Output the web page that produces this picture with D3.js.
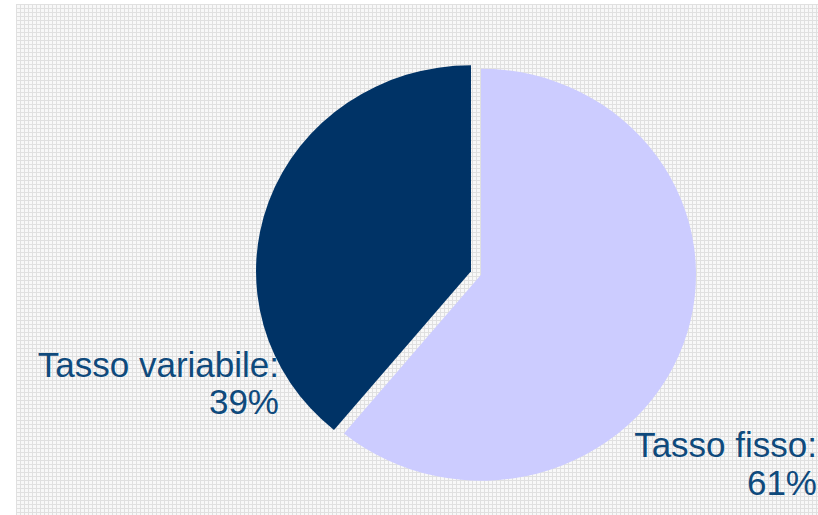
<!DOCTYPE html>
<html>
<head>
<meta charset="utf-8">
<script src="https://cdn.jsdelivr.net/npm/d3@7"></script>
<style>
  html, body { margin: 0; padding: 0; background: #fff; }
  svg { display: block; }
  .lbl { font-family: "Liberation Sans", Arial, sans-serif; font-size: 35px; fill: #0f4a7c; }
</style>
</head>
<body>
<div id="chart"></div>
<script>
// chart values
var categories = ["Tasso fisso", "Tasso variabile"];
var values = [61, 39];
var colors = ["#ccccff", "#003366"];

var width = 818, height = 515,
    center = { x: 476, y: 273 },
    radius = 215,
    squash = 206 / 215,
    explode = 5.3;

var svg = d3.select("#chart").append("svg")
    .attr("width", width)
    .attr("height", height);

// hatched grey background
var defs = svg.append("defs");
var pat = defs.append("pattern")
    .attr("id", "grid")
    .attr("width", 4).attr("height", 4)
    .attr("patternUnits", "userSpaceOnUse");
pat.append("rect").attr("width", 4).attr("height", 4).attr("fill", "#f8f8f8");
pat.append("rect").attr("width", 4).attr("height", 1).attr("fill", "#e0e0e0");
pat.append("rect").attr("width", 1).attr("height", 4).attr("fill", "#e0e0e0");

svg.append("rect")
    .attr("x", 16).attr("y", 4)
    .attr("width", width - 16).attr("height", height - 4)
    .attr("fill", "url(#grid)");

// labels sit under the pie
var labels = [
  { lines: [categories[0] + ":", values[0] + "%"], x: 817, y: 457, dy: 38 },
  { lines: [categories[1] + ":", values[1] + "%"], x: 279, y: 377, dy: 37 }
];

labels.forEach(function (l) {
  var t = svg.append("text")
      .attr("class", "lbl")
      .attr("text-anchor", "end");
  l.lines.forEach(function (s, i) {
    t.append("tspan").attr("x", l.x).attr("y", l.y + i * l.dy).text(s);
  });
});

var pie = d3.pie().sort(null).value(function (d) { return d; });
var arc = d3.arc().innerRadius(0).outerRadius(radius);

var g = svg.append("g")
    .attr("transform", "translate(" + center.x + "," + center.y + ") scale(1," + squash + ")");

g.selectAll("path").data(pie(values)).enter()
    .append("path")
    .attr("fill", function (d, i) { return colors[i]; })
    .attr("transform", function (d) {
      var a = (d.startAngle + d.endAngle) / 2;
      return "translate(" + (Math.sin(a) * explode) + "," + (-Math.cos(a) * explode) + ")";
    })
    .attr("d", arc);
</script>
</body>
</html>
